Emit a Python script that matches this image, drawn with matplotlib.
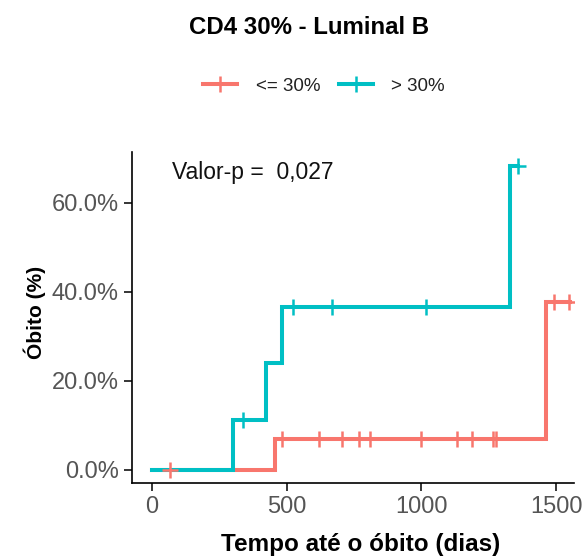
import numpy as np
import matplotlib
matplotlib.use("Agg")
import matplotlib.pyplot as plt
from matplotlib.lines import Line2D
from matplotlib.ticker import FuncFormatter

plt.rcParams['font.family'] = ['Liberation Sans', 'DejaVu Sans']

# ---- data ----
groups = ["<= 30%", "> 30%"]
colors = ["#F8766D", "#00BFC4"]

low_times = [0, 457, 1461, 1552]
low_levels = [0.0, 6.9, 37.7, 37.7]
low_censor = [68, 484, 621, 705, 770, 810, 998, 1131, 1187, 1265, 1277, 1492, 1549]

high_times = [0, 303, 424, 482, 1329, 1360]
high_levels = [0.0, 11.2, 23.9, 36.6, 68.2, 68.2]
high_censor = [340, 525, 668, 1017, 1360]

x_ticks = [0, 500, 1000, 1500]
y_ticks = [0, 20, 40, 60]
p_text = "Valor-p =  0,027"

W, H = 582, 558
fig = plt.figure(figsize=(W / 100, H / 100), dpi=100)
ax = fig.add_axes([131.7 / W, 1 - 483.3 / H, (574 - 131.7) / W, (483.3 - 151.7) / H])

def level_at(times, levels, t):
    idx = np.searchsorted(times, t, side="right") - 1
    return np.asarray(levels)[idx]

series = [(low_times, low_levels, low_censor), (high_times, high_levels, high_censor)]
for (t, lv, c), col in zip(series, colors):
    ax.step(t, lv, where="post", color=col, lw=2.9, solid_joinstyle="miter", zorder=2)
for (t, lv, c), col in zip(series, colors):
    ax.plot(c, level_at(t, lv, c), ls="none", marker="+", ms=11.5, mew=1.8, color=col, zorder=3)

ax.set_xlim(-74, 1566)
ax.set_ylim(-3.0, 71.4)
ax.set_xticks(x_ticks)
ax.set_yticks(y_ticks)
ax.yaxis.set_major_formatter(FuncFormatter(lambda v, p: f"{v:.1f}%"))
ax.tick_params(axis="both", labelsize=17, colors="black", labelcolor="#555555",
               length=5.5, width=1.1, pad=4)
for s in ["top", "right"]:
    ax.spines[s].set_visible(False)
for s in ["left", "bottom"]:
    ax.spines[s].set_linewidth(1.2)

ax.text(74, 66.8, p_text, fontsize=16.5, va="center", ha="left", color="#111111")

fig.text(309 / W, 1 - 27 / H, "CD4 30% - Luminal B", fontsize=17.3, fontweight="bold",
         ha="center", va="center")
fig.text(361 / W, 1 - 545 / H, "Tempo até o óbito (dias)", fontsize=17.5, fontweight="bold",
         ha="center", va="center")
fig.text(35 / W, 1 - 312 / H, "Óbito (%)", fontsize=15, fontweight="bold",
         ha="center", va="center", rotation=90)

handles = [Line2D([0], [0], color=c, lw=2.9, marker="+", ms=12, mew=1.8) for c in colors]
fig.legend(handles, groups, loc="center", bbox_to_anchor=(324 / W, 1 - 86 / H), ncol=2,
           frameon=False, fontsize=13.5, handlelength=1.8, handletextpad=1.0,
           columnspacing=1.0, labelcolor="#222222")

fig.savefig("out.png", dpi=100)
